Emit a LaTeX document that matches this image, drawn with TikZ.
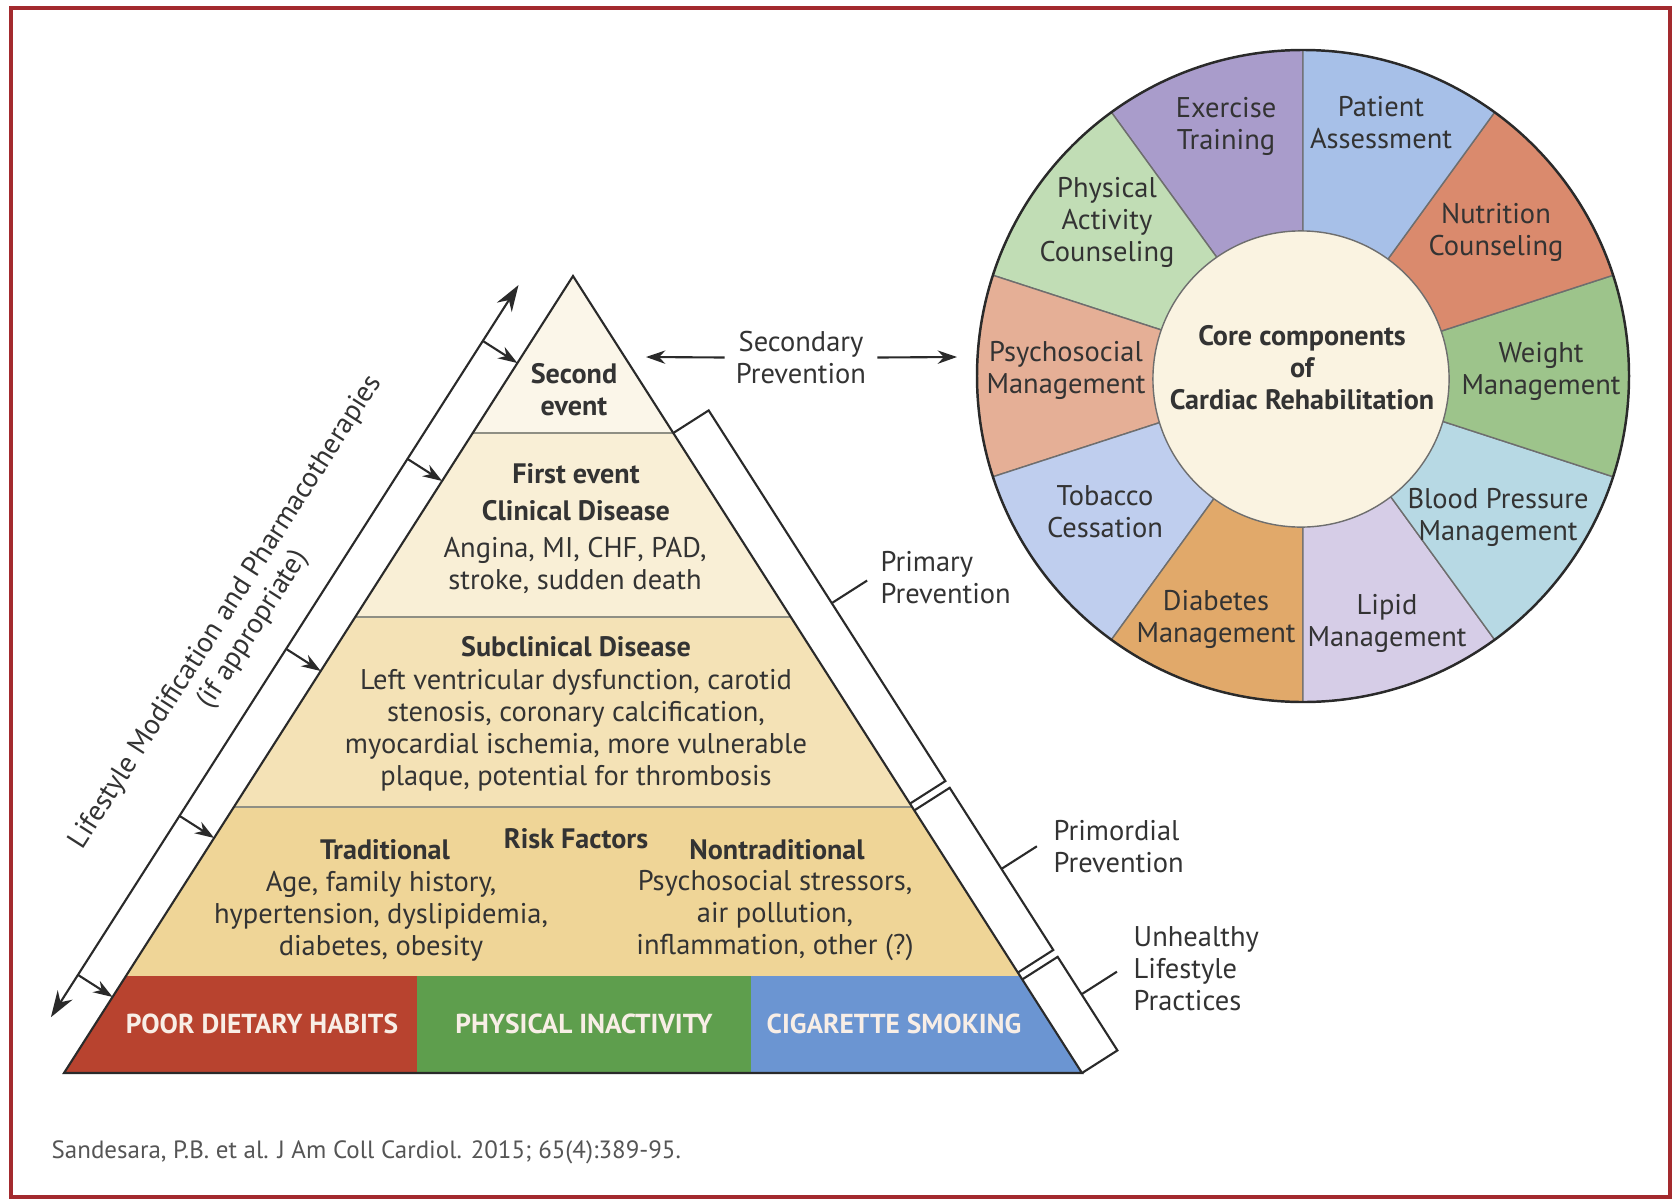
\documentclass[tikz,border=0pt]{standalone}
\usepackage{fontspec}
\setmainfont{PT Sans}
\usetikzlibrary{arrows.meta,calc}

\definecolor{frameRed}{HTML}{A32A2E}
\definecolor{txtGray}{HTML}{333333}
\definecolor{darkLn}{HTML}{2A2A2A}
\definecolor{tierLn}{HTML}{8F8F84}
\definecolor{tierA}{HTML}{FBF6E9}
\definecolor{tierB}{HTML}{F9EFD6}
\definecolor{tierC}{HTML}{F4E2B6}
\definecolor{tierD}{HTML}{EFD597}
\definecolor{cPoor}{HTML}{B8432F}
\definecolor{cInact}{HTML}{5E9E4D}
\definecolor{cSmoke}{HTML}{6B95D2}
\definecolor{bandTxt}{HTML}{F8EEE6}
\definecolor{cExer}{HTML}{A99CCB}
\definecolor{cPatient}{HTML}{A7C0E8}
\definecolor{cNutr}{HTML}{DA8A6D}
\definecolor{cWeight}{HTML}{9DC48B}
\definecolor{cBp}{HTML}{B7D9E4}
\definecolor{cLipid}{HTML}{D6CDE7}
\definecolor{cDiab}{HTML}{E1A96A}
\definecolor{cTobac}{HTML}{BFCEEE}
\definecolor{cPsych}{HTML}{E5AF96}
\definecolor{cPhys}{HTML}{C1DDB5}
\definecolor{cCore}{HTML}{FAF3E1}
\definecolor{segLn}{HTML}{6E6E6E}
\definecolor{capGray}{HTML}{555555}

\tikzset{
  txt/.style={align=center, text=txtGray, inner sep=0pt, font=\fontsize{8.1}{9.1}\selectfont},
  hd/.style={txt, font=\fontsize{8}{9.1}\selectfont\bfseries},
  lbl/.style={txt, align=left},
  bandlbl/.style={text=bandTxt, inner sep=0pt, font=\fontsize{7.8}{9.1}\selectfont\bfseries},
  srctext/.style={text=capGray, inner sep=0pt, font=\fontsize{7.1}{8}\selectfont},
  boxframe/.style={draw=frameRed, line width=0.9pt},
  tierline/.style={draw=tierLn, line width=0.8pt},
  pyrline/.style={draw=darkLn, line width=0.6pt},
  brk/.style={draw=darkLn, line width=0.6pt},
  arr/.style={-{Stealth[length=5.5pt, width=3.8pt]}, draw=darkLn, line width=0.6pt},
  arrtwo/.style={{Stealth[length=7.5pt, width=5pt]}-{Stealth[length=7.5pt, width=5pt]}, draw=darkLn, line width=0.6pt},
  corecirc/.style={circle, fill=cCore, draw=segLn, line width=0.4pt, minimum size=2.96cm, inner sep=0pt},
}

\begin{document}
\begin{tikzpicture}[x=0.01cm, y=-0.01cm]
  \useasboundingbox (0,0) rectangle (1676,1200);
  \draw[boxframe] (11,8) rectangle (1670,1197);

  \coordinate (apex) at (573,276);
  \coordinate (bl) at (64,1073);
  \coordinate (br) at (1082,1073);
  \foreach \t [count=\i] in {0.197,0.4279,0.6663,0.8783} {
    \coordinate (l\i) at ($(apex)!\t!(bl)$);
    \coordinate (r\i) at ($(apex)!\t!(br)$);
  }
  \coordinate (s1) at (417,976);
  \coordinate (s2) at (751,976);
  \coordinate (s1b) at (417,1073);
  \coordinate (s2b) at (751,1073);

  \fill[tierA] (apex) -- (r1) -- (l1) -- cycle;
  \fill[tierB] (l1) -- (r1) -- (r2) -- (l2) -- cycle;
  \fill[tierC] (l2) -- (r2) -- (r3) -- (l3) -- cycle;
  \fill[tierD] (l3) -- (r3) -- (r4) -- (l4) -- cycle;
  \fill[cPoor] (l4) -- (s1) -- (s1b) -- (bl) -- cycle;
  \fill[cInact] (s1) -- (s2) -- (s2b) -- (s1b) -- cycle;
  \fill[cSmoke] (s2) -- (r4) -- (br) -- (s2b) -- cycle;
  \foreach \i in {1,2,3} \draw[tierline] (l\i) -- (r\i);
  \draw[pyrline] (apex) -- (br) -- (bl) -- cycle;

  \node[hd] (second) at (574,390) {Second\\event};
  \node[hd] (first) at (576,474) {First event};
  \node[hd] (clin) at (576,511) {Clinical Disease};
  \node[txt] (clintxt) at (575,565) {Angina, MI, CHF, PAD,\\stroke, sudden death};
  \node[hd] (subcl) at (576,647) {Subclinical Disease};
  \node[txt] (subcltxt) at (576,730) {Left ventricular dysfunction, carotid\\stenosis, coronary calcification,\\myocardial ischemia, more vulnerable\\plaque, potential for thrombosis};
  \node[hd] (risk) at (576,839) {Risk Factors};
  \node[hd] (trad) at (385,850) {Traditional};
  \node[hd] (nontrad) at (777,850) {Nontraditional};
  \node[txt] (tradtxt) at (381,916) {Age, family history,\\hypertension, dyslipidemia,\\diabetes, obesity};
  \node[txt] (nontradtxt) at (775,916) {Psychosocial stressors,\\air pollution,\\inflammation, other (?)};
  \node[bandlbl] (poor) at (262,1024) {POOR DIETARY HABITS};
  \node[bandlbl] (inact) at (584,1024) {PHYSICAL INACTIVITY};
  \node[bandlbl] (smoke) at (894,1024) {CIGARETTE SMOKING};

  \coordinate (lt) at ($(apex)!0.0391!(bl)+(-34.6,-22.1)$);
  \coordinate (lb) at ($(apex)!0.9577!(bl)+(-34.6,-22.1)$);
  \draw[arrtwo] (lb) -- (lt);
  \foreach \t [count=\i] in {0.1092,0.2572,0.4956,0.7051,0.9046} {
    \coordinate (a\i) at ($(apex)!\t!(bl)$);
    \coordinate (b\i) at ($(a\i)+(-34.6,-22.1)$);
    \draw[arr] (b\i) -- (a\i);
  }
  \node[txt, rotate=57.4] (life) at (240,621) {Lifestyle Modification and Pharmacotherapies\\(if appropriate)};

  \foreach \n/\t in {pa/0.197, pb/0.662, pc/0.6705, pd/0.874, pe/0.8826, pf/1} {
    \coordinate (\n-i) at ($(apex)!\t!(br)$);
    \coordinate (\n-o) at ($(\n-i)+(35.4,-22.6)$);
  }
  \draw[brk] (pa-i) -- (pa-o) -- (pb-o) -- (pb-i);
  \draw[brk] (pc-i) -- (pc-o) -- (pd-o) -- (pd-i);
  \draw[brk] (pe-i) -- (pe-o) -- (pf-o) -- (pf-i);
  \coordinate (primA) at ($(pa-o)!0.52!(pb-o)$);
  \coordinate (primB) at ($(primA)+(35.4,-22.6)$);
  \coordinate (mordA) at ($(pc-o)!0.5!(pd-o)$);
  \coordinate (mordB) at ($(mordA)+(35.4,-22.6)$);
  \coordinate (unhA) at ($(pe-o)!0.4!(pf-o)$);
  \coordinate (unhB) at ($(unhA)+(35.4,-22.6)$);
  \draw[brk] (primA) -- (primB);
  \draw[brk] (mordA) -- (mordB);
  \draw[brk] (unhA) -- (unhB);
  \node[lbl, anchor=west] (prim) at (880,578) {Primary\\Prevention};
  \node[lbl, anchor=west] (mord) at (1053,847) {Primordial\\Prevention};
  \node[lbl, anchor=west] (unh) at (1133,969) {Unhealthy\\Lifestyle\\Practices};

  \node[txt, inner sep=3pt] (sec) at (801,358) {Secondary\\Prevention};
  \coordinate (secL) at (646,357);
  \coordinate (secR) at (957,357);
  \draw[arr] (sec) -- (secL);
  \draw[arr] (sec) -- (secR);

  \coordinate (wc) at (1303,376);
  \begin{scope}[shift={(wc)}, y=0.01cm]
    \foreach \a/\c in {90/cExer, 126/cPhys, 162/cPsych, 198/cTobac, 234/cDiab, 270/cLipid, 306/cBp, 342/cWeight, 18/cNutr, 54/cPatient}
      \filldraw[fill=\c, draw=segLn, line width=0.4pt] (0,0) -- (\a:326) arc[start angle=\a, delta angle=36, radius=326] -- cycle;
    \draw[draw=darkLn, line width=0.7pt] (0,0) circle[radius=326];
  \end{scope}
  \node[corecirc] (core) at (1301,379) {};
  \node[hd] (coretxt) at (1302,368) {Core components\\of\\Cardiac Rehabilitation};

  \node[txt] (exer) at (1226,126) {Exercise\\Training};
  \node[txt] (patient) at (1381,123) {Patient\\Assessment};
  \node[txt] (nutr) at (1496,232) {Nutrition\\Counseling};
  \node[txt] (weight) at (1541,371) {Weight\\Management};
  \node[txt] (bp) at (1498,517) {Blood Pressure\\Management};
  \node[txt] (lipid) at (1387,623) {Lipid\\Management};
  \node[txt] (diab) at (1216,619) {Diabetes\\Management};
  \node[txt] (tobac) at (1105,512) {Tobacco\\Cessation};
  \node[txt] (psych) at (1066,370) {Psychosocial\\Management};
  \node[txt] (phys) at (1107,222) {Physical\\Activity\\Counseling};

  \node[srctext, anchor=west] (src) at (51,1152) {Sandesara, P.B. et al. J Am Coll Cardiol. 2015; 65(4):389-95.};
\end{tikzpicture}
\end{document}
